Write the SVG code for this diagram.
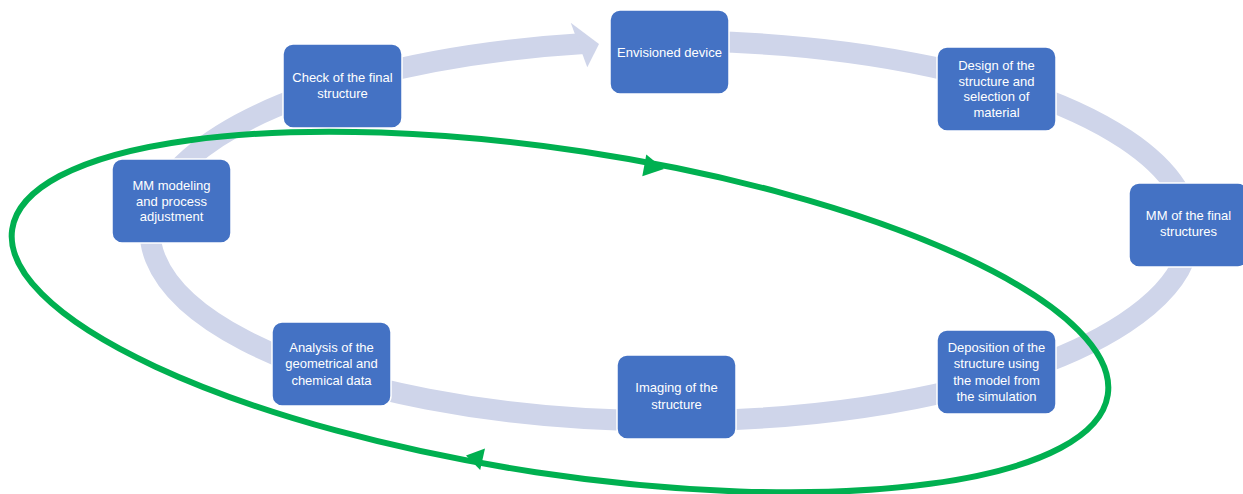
<svg xmlns="http://www.w3.org/2000/svg" width="1243" height="494" viewBox="0 0 1243 494">
<style>
.band{fill:none;stroke:#CFD5EA;stroke-width:21}
.head{fill:#CFD5EA}
.box{fill:#4472C4;stroke:#FFFFFF;stroke-width:1.5}
.lbl{font-family:"Liberation Sans",Arial,sans-serif;font-size:13px;fill:#FFFFFF;text-anchor:middle}
.loop{fill:none;stroke:#00B050;stroke-width:6}
.ghead{fill:#00B050}
</style>
<rect width="1243" height="494" fill="#FFFFFF"/>
<g id="connectors">
<path class="band" d="M700,41.3 A520,190 0 1 1 584,43.6"/>
<polygon class="head" points="570.7,22.7 599,44 587.3,67.3"/>
</g>
<g id="n1"><rect class="box" x="610" y="10" width="119" height="84" rx="10"/><text class="lbl" x="669.5" y="56.5">Envisioned device</text></g>
<g id="n2"><rect class="box" x="937" y="47" width="119" height="84" rx="10"/><text class="lbl" x="996.5" y="69.5">Design of the</text><text class="lbl" x="996.5" y="85.5">structure and</text><text class="lbl" x="996.5" y="101">selection of</text><text class="lbl" x="996.5" y="117">material</text></g>
<g id="n3"><rect class="box" x="1129" y="183" width="119" height="84" rx="10"/><text class="lbl" x="1188.5" y="219.5">MM of the final</text><text class="lbl" x="1188.5" y="236">structures</text></g>
<g id="n4"><rect class="box" x="937" y="330" width="119" height="84" rx="10"/><text class="lbl" x="996.5" y="351.5">Deposition of the</text><text class="lbl" x="996.5" y="368">structure using</text><text class="lbl" x="996.5" y="384.5">the model from</text><text class="lbl" x="996.5" y="400.5">the simulation</text></g>
<g id="n5"><rect class="box" x="617" y="355" width="119" height="84" rx="10"/><text class="lbl" x="676.5" y="392">Imaging of the</text><text class="lbl" x="676.5" y="408.5">structure</text></g>
<g id="n6"><rect class="box" x="272" y="322" width="119" height="84" rx="10"/><text class="lbl" x="331.5" y="351.5">Analysis of the</text><text class="lbl" x="331.5" y="368">geometrical and</text><text class="lbl" x="331.5" y="384.5">chemical data</text></g>
<g id="n7"><rect class="box" x="112" y="159" width="119" height="84" rx="10"/><text class="lbl" x="171.5" y="189.5">MM modeling</text><text class="lbl" x="171.5" y="205.5">and process</text><text class="lbl" x="171.5" y="221">adjustment</text></g>
<g id="n8"><rect class="box" x="283" y="44" width="119" height="84" rx="10"/><text class="lbl" x="342.5" y="82">Check of the final</text><text class="lbl" x="342.5" y="98">structure</text></g>
<g id="loop">
<ellipse class="loop" cx="560" cy="312" rx="554" ry="162" transform="rotate(8.6 560 312)"/>
<polygon class="ghead" points="664,169 646.3,154.6 642.3,176.2"/>
<polygon class="ghead" points="466,455.5 485,448.5 480.2,469.9"/>
</g>
</svg>
